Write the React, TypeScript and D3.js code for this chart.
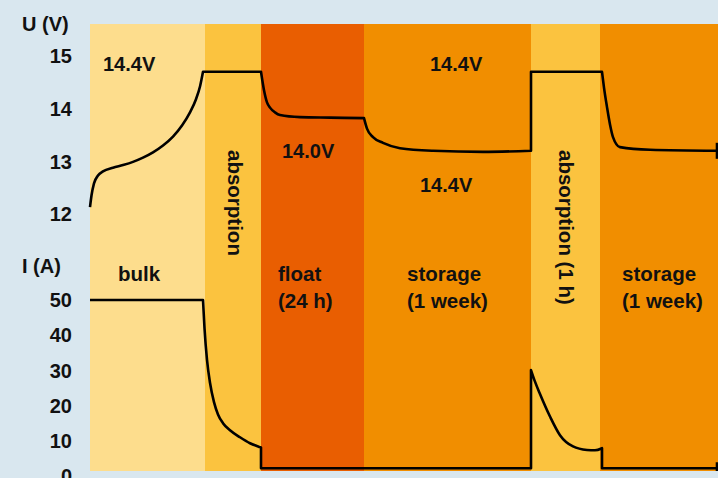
import React, { useEffect, useRef } from 'react';
import * as d3 from 'd3';

// time runs in arbitrary units, one per pixel of the original drawing
const phases = [
  { name: 'bulk', start: 0, end: 115, color: '#fddd8d' },
  { name: 'absorption', start: 115, end: 171, color: '#fbc33f' },
  { name: 'float', start: 171, end: 274, color: '#e95e01' },
  { name: 'storage', start: 274, end: 441, color: '#f18e00' },
  { name: 'absorption (1 h)', start: 441, end: 510, color: '#fbc33f' },
  { name: 'storage 2', start: 510, end: 628, color: '#f18e00' },
];

const voltageTicks = [12, 13, 14, 15];
const currentTicks = [0, 10, 20, 30, 40, 50];

// voltage trace, split in pieces: [t, volts], curved or straight
const voltageBulk = [[0, 12.13], [1.5, 12.35], [4, 12.58], [8, 12.73], [13, 12.81], [23, 12.88], [33, 12.93], [43, 12.99], [53, 13.07], [63, 13.17], [73, 13.3], [83, 13.47], [92, 13.68], [100, 13.93], [106, 14.18], [110, 14.42], [113, 14.7]];
const voltageAbsorption = [[113, 14.7], [171, 14.7]];
const voltageFloat = [[171, 14.7], [174, 14.35], [177, 14.12], [180, 14.02], [185, 13.93], [190, 13.88], [210, 13.84], [240, 13.83], [274, 13.82]];
const voltageStorage = [[274, 13.82], [277, 13.62], [283, 13.46], [293, 13.35], [310, 13.25], [343, 13.2], [393, 13.18], [441, 13.2]];
const voltageAbsorption2 = [[441, 13.2], [441, 14.7], [512, 14.7]];
const voltageStorage2 = [[512, 14.7], [514, 14.4], [517, 14.03], [520, 13.7], [523, 13.46], [530, 13.27], [560, 13.22], [627, 13.2]];

const currentBulk = [[0, 50], [113, 50]];
const currentAbsorption = [[113, 50], [114.5, 42], [117, 33], [120, 26.5], [124, 21], [128, 17.5], [133, 15], [140, 13], [150, 11], [160, 9.3], [170, 8.2], [171, 8.1]];
const currentFloat = [[171, 8.1], [171, 2.2], [441, 2.2], [441, 30.1]];
const currentAbsorption2 = [[441, 30.1], [445, 26.8], [450, 23.3], [460, 16.9], [470, 11.6], [483, 8.4], [497, 7.4], [505, 7.3], [512, 7.9]];
const currentStorage2 = [[512, 7.9], [512, 2.2], [627, 2.2]];

const labels = [
  { text: '14.4V', t: 13, v: 14.85, size: 20 },
  { text: '14.4V', t: 340, v: 14.85, size: 20 },
  { text: '14.0V', t: 192, v: 13.2, size: 20 },
  { text: '14.4V', t: 330, v: 12.55, size: 20 },
];

const phaseLabels = [
  { lines: ['bulk'], t: 28 },
  { lines: ['float', '(24 h)'], t: 188 },
  { lines: ['storage', '(1 week)'], t: 317 },
  { lines: ['storage', '(1 week)'], t: 532 },
];

const verticalLabels = [
  { text: 'absorption', t: 145.5 },
  { text: 'absorption (1 h)', t: 476 },
];

const FONT = '"Liberation Sans", Arial, Helvetica, sans-serif';

export default function App() {
  const ref = useRef<SVGSVGElement>(null);

  useEffect(() => {
    const width = 718;
    const height = 478;
    const plot = { left: 90, right: 718, top: 24, bottom: 471 };

    const x = d3.scaleLinear().domain([0, 628]).range([plot.left, plot.right]);
    const yU = d3.scaleLinear().domain([12, 15]).range([214, 56]);
    const yI = d3.scaleLinear().domain([0, 50]).range([476, 300]);

    const svg = d3.select(ref.current);
    svg.selectAll('*').remove();

    svg.append('rect').attr('width', width).attr('height', height).attr('fill', '#d9e7ef');

    svg
      .append('g')
      .selectAll('rect')
      .data(phases)
      .join('rect')
      .attr('x', (d) => x(d.start))
      .attr('y', plot.top)
      .attr('width', (d) => x(d.end) - x(d.start))
      .attr('height', plot.bottom - plot.top)
      .attr('fill', (d) => d.color);

    // join curved and straight pieces into one path
    const trace = (pieces: [number[][], boolean][], yScale: d3.ScaleLinear<number, number>) =>
      pieces
        .map(([pts, curved], i) => {
          const d = d3
            .line<number[]>()
            .x((p) => x(p[0]))
            .y((p) => yScale(p[1]))
            .curve(curved ? d3.curveMonotoneX : d3.curveLinear)(pts) as string;
          return i === 0 ? d : d.replace(/^M/, 'L');
        })
        .join('');

    const drawLine = (d: string) =>
      svg
        .append('path')
        .attr('d', d)
        .attr('fill', 'none')
        .attr('stroke', '#000')
        .attr('stroke-width', 2.6)
        .attr('stroke-linejoin', 'round');

    drawLine(
      trace(
        [
          [voltageBulk, true],
          [voltageAbsorption, false],
          [voltageFloat, true],
          [voltageStorage, true],
          [voltageAbsorption2, false],
          [voltageStorage2, true],
        ],
        yU
      )
    );
    drawLine(
      trace(
        [
          [currentBulk, false],
          [currentAbsorption, true],
          [currentFloat, false],
          [currentAbsorption2, true],
          [currentStorage2, false],
        ],
        yI
      )
    );

    // end markers
    const endU = voltageStorage2[voltageStorage2.length - 1];
    const endI = currentStorage2[currentStorage2.length - 1];
    drawLine(`M${x(endU[0])},${yU(endU[1]) - 8}V${yU(endU[1]) + 8}`);
    drawLine(`M${x(endI[0])},${yI(endI[1]) - 6}V${plot.bottom}`);

    const text = svg
      .append('g')
      .attr('font-family', FONT)
      .attr('font-weight', 'bold')
      .attr('fill', '#111');

    text
      .selectAll('.tu')
      .data(voltageTicks)
      .join('text')
      .attr('x', 72)
      .attr('y', (d) => yU(d))
      .attr('dy', '0.36em')
      .attr('text-anchor', 'end')
      .attr('font-size', 20)
      .text((d) => d);

    text
      .selectAll('.ti')
      .data(currentTicks)
      .join('text')
      .attr('x', 72)
      .attr('y', (d) => yI(d))
      .attr('dy', '0.36em')
      .attr('text-anchor', 'end')
      .attr('font-size', 20)
      .text((d) => d);

    text.append('text').attr('x', 22).attr('y', 31).attr('font-size', 20).text('U (V)');
    text.append('text').attr('x', 22).attr('y', 273).attr('font-size', 20).text('I (A)');

    text
      .selectAll('.lv')
      .data(labels)
      .join('text')
      .attr('x', (d) => x(d.t))
      .attr('y', (d) => yU(d.v))
      .attr('dy', '0.36em')
      .attr('font-size', (d) => d.size)
      .text((d) => d.text);

    phaseLabels.forEach((d) => {
      d.lines.forEach((line, i) => {
        text
          .append('text')
          .attr('x', x(d.t))
          .attr('y', 281 + i * 27)
          .attr('font-size', 20.5)
          .text(line);
      });
    });

    text
      .selectAll('.vl')
      .data(verticalLabels)
      .join('text')
      .attr('transform', (d) => `translate(${x(d.t)},150) rotate(90)`)
      .attr('dominant-baseline', 'central')
      .attr('font-size', 20.5)
      .text((d) => d.text);
  }, []);

  return <svg ref={ref} width={718} height={478} style={{ position: 'absolute', left: 0, top: 0 }} />;
}
